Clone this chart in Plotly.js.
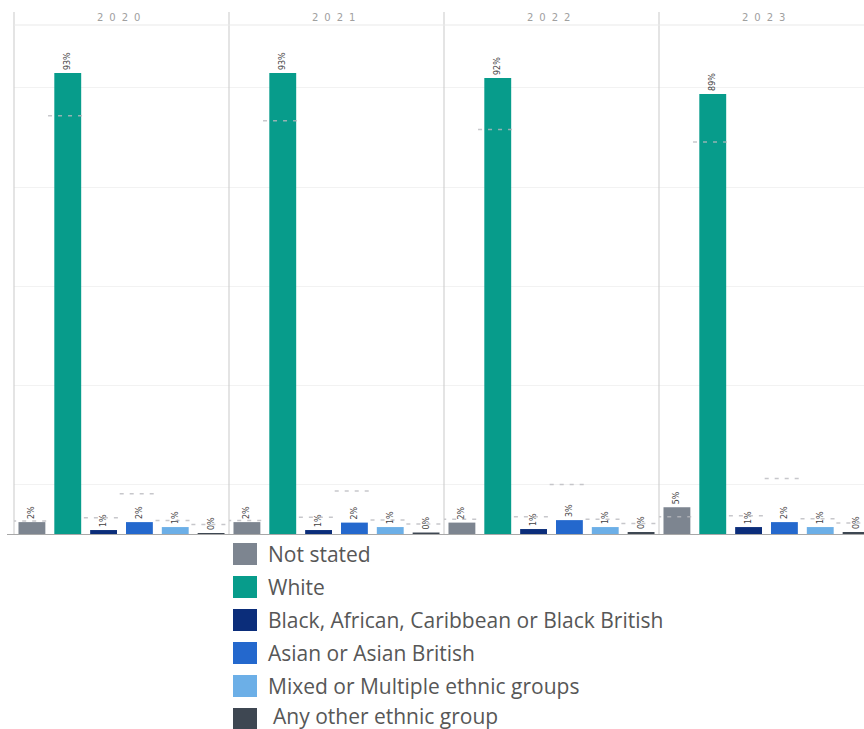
<!DOCTYPE html>
<html>
<head>
<meta charset="utf-8">
<script src="https://cdn.plot.ly/plotly-3.0.1.min.js"></script>
<style>
  html, body { margin: 0; padding: 0; background: #ffffff; }
  #chart { width: 864px; height: 729px; }
</style>
</head>
<body>
<div id="chart"></div>
<script>
// Ethnic group share of records by year (percent)
const years = ['2020', '2021', '2022', '2023'];
const categories = [
  'Not stated',
  'White',
  'Black, African, Caribbean or Black British',
  'Asian or Asian British',
  'Mixed or Multiple ethnic groups',
  'Any other ethnic group'
];
const colors = ['#7d8590', '#079c8b', '#0b2d7a', '#2468cd', '#6cafe7', '#3e4752'];

const share2020 = [2.4, 93.0, 0.8, 2.4, 1.4, 0.2];
const share2021 = [2.4, 93.0, 0.8, 2.3, 1.4, 0.3];
const share2022 = [2.3, 92.0, 1.0, 2.8, 1.4, 0.4];
const share2023 = [5.4, 88.8, 1.4, 2.4, 1.4, 0.4];

// Population benchmark shown as a dotted reference mark over each bar
const bench2020 = [2.6, 84.4, 3.3, 8.1, 2.7, 1.9];
const bench2021 = [2.7, 83.4, 3.4, 8.7, 2.8, 2.0];
const bench2022 = [3.0, 81.6, 3.5, 10.0, 3.0, 2.1];
const bench2023 = [3.5, 79.1, 3.7, 11.2, 3.1, 2.2];

const shares = [share2020, share2021, share2022, share2023];
const benches = [bench2020, bench2021, bench2022, bench2023];

// ---- layout geometry (pixels) ----
const W = 864, H = 729;
const panelLeft = 14, panelW = 215;
const plotTop = 25, plotBottom = 534;
const px = v => v / W;
const py = v => 1 - v / H;

const traces = [];
const layout = {
  width: W, height: H,
  margin: {l: 0, r: 0, t: 0, b: 0},
  paper_bgcolor: '#ffffff',
  plot_bgcolor: 'rgba(0,0,0,0)',
  showlegend: false,
  barmode: 'overlay',
  font: {family: 'Open Sans, sans-serif', color: '#555'},
  shapes: [],
  annotations: []
};

years.forEach((yr, k) => {
  const sfx = k === 0 ? '' : String(k + 1);
  const x0 = panelLeft + panelW * k;
  const x1 = Math.min(W, x0 + panelW);
  const visibleSlots = 6 * (x1 - x0) / panelW;

  layout['xaxis' + sfx] = {
    domain: [px(x0), px(x1)],
    range: [-0.5, -0.5 + visibleSlots],
    anchor: 'y' + sfx,
    showticklabels: false, showgrid: false, zeroline: false, showline: false,
    fixedrange: true
  };
  layout['yaxis' + sfx] = {
    domain: [py(plotBottom), py(plotTop)],
    range: [0, 102.7],
    anchor: 'x' + sfx,
    tickvals: [10, 30, 50, 70, 90],
    showticklabels: false,
    gridcolor: '#f2f2f2', gridwidth: 1,
    zeroline: false, showline: false,
    fixedrange: true
  };

  categories.forEach((cat, i) => {
    traces.push({
      type: 'bar',
      name: cat,
      x: [i],
      y: [shares[k][i]],
      width: 0.75,
      marker: {color: colors[i]},
      texttemplate: '%{y:.0f}%',
      textposition: 'outside',
      textangle: -90,
      textfont: {size: 8, color: '#3f3f3f', family: 'DejaVu Sans, sans-serif'},
      cliponaxis: false,
      xaxis: 'x' + sfx, yaxis: 'y' + sfx,
      hoverinfo: 'skip'
    });
  });

  // dotted benchmark marks
  const bx = [], by = [];
  benches[k].forEach((b, i) => {
    bx.push(i - 0.55, i + 0.55, null);
    by.push(b, b, null);
  });
  traces.push({
    type: 'scatter', mode: 'lines',
    x: bx, y: by,
    line: {color: 'rgba(185,185,190,0.8)', width: 1.5, dash: '4px,6px'},
    xaxis: 'x' + sfx, yaxis: 'y' + sfx,
    hoverinfo: 'skip'
  });

  // panel separator
  layout.shapes.push({
    type: 'line', xref: 'paper', yref: 'paper',
    x0: px(x0), x1: px(x0), y0: py(12), y1: py(plotBottom),
    line: {color: '#c9c9c9', width: 1}
  });

  // year header
  layout.annotations.push({
    xref: 'paper', yref: 'paper',
    x: px(x0 + panelW / 2), y: py(17),
    xanchor: 'center', yanchor: 'middle',
    text: yr, showarrow: false,
    font: {size: 10, color: '#a0a0a0', family: 'DejaVu Sans, sans-serif'}
  });
});

// header rule and baseline
layout.shapes.push({
  type: 'line', xref: 'paper', yref: 'paper',
  x0: px(panelLeft), x1: 1, y0: py(plotTop), y1: py(plotTop),
  line: {color: '#e9e9e9', width: 1}
});
layout.shapes.push({
  type: 'line', xref: 'paper', yref: 'paper',
  x0: px(7), x1: 1, y0: py(plotBottom + 0.5), y1: py(plotBottom + 0.5),
  line: {color: '#a8a8a8', width: 1}
});

// colour key below the panels
categories.forEach((cat, i) => {
  const top = 543 + 33 * i;
  layout.shapes.push({
    type: 'rect', xref: 'paper', yref: 'paper',
    x0: px(233), x1: px(257), y0: py(top + 22), y1: py(top),
    fillcolor: colors[i], line: {width: 0}
  });
  layout.annotations.push({
    xref: 'paper', yref: 'paper',
    x: px(i === 5 ? 271 : 266), y: py(i === 5 ? top + 8 : top + 11),
    xanchor: 'left', yanchor: 'middle',
    text: cat, showarrow: false,
    font: {size: 21, color: '#575757', family: 'Open Sans, sans-serif'}
  });
});

Plotly.newPlot('chart', traces, layout, {displayModeBar: false, staticPlot: true}).then(() => {
  document.querySelectorAll('.annotation-text').forEach(t => {
    if (years.includes(t.textContent)) t.style.letterSpacing = '6px';
  });
});
</script>
</body>
</html>
